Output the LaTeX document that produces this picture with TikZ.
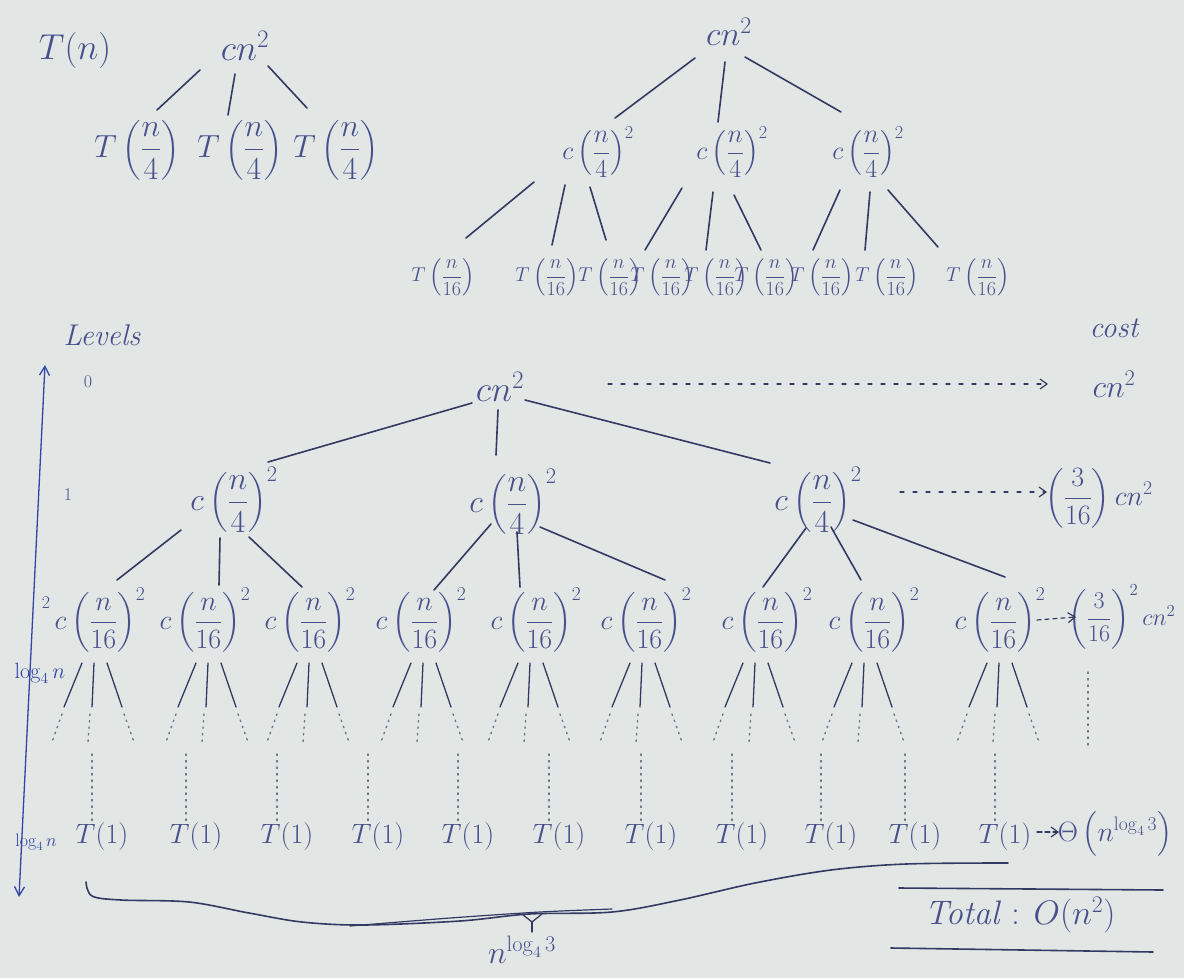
\RequirePackage{fix-cm}
\documentclass[tikz,border=0pt]{standalone}
\usepackage{amsmath}
\usetikzlibrary{calc,arrows.meta}
\definecolor{paper}{RGB}{226,231,229}
\definecolor{txt}{RGB}{72,80,140}
\definecolor{edg}{RGB}{52,57,100}
\definecolor{pen}{RGB}{50,68,165}
\definecolor{dots}{RGB}{110,115,145}
\newcommand{\lnk}[6]{\draw[edge] ($(#1)+(#2,#3)$) -- ($(#4)+(#5,#6)$);}
\newcommand{\fork}[2]{%
 \draw[edge,line width=1.3pt] ($(#1)+(#2-10,43)$) -- ($(#1)+(#2-28,87)$);
 \draw[edge,line width=1.3pt] ($(#1)+(#2+2,43)$) -- ($(#1)+(#2,87)$);
 \draw[edge,line width=1.3pt] ($(#1)+(#2+15,43)$) -- ($(#1)+(#2+30,87)$);
 \draw[dotl] ($(#1)+(#2-30,94)$) -- ($(#1)+(#2-40,122)$);
 \draw[dotl] ($(#1)+(#2-2,94)$) -- ($(#1)+(#2-4,122)$);
 \draw[dotl] ($(#1)+(#2+32,94)$) -- ($(#1)+(#2+42,122)$);}
\newcommand{\leafdots}[1]{\draw[dotl] ($(#1)+(-10,-82)$) -- ($(#1)+(-10,-14)$);}
\begin{document}
\begin{tikzpicture}[x=1pt,y=-1pt,
  edge/.style={draw=edg,line width=1.6pt,line cap=round},
  dotl/.style={draw=dots,line width=1.4pt,dash pattern=on 1.5pt off 5pt,line cap=round},
  darr/.style={draw=edg,line width=1.2pt,dash pattern=on 4pt off 9pt,line cap=round,
    -{Straight Barb[length=7pt,width=10pt]}},
  lbl/.style={text=txt,inner sep=1pt},
  plbl/.style={text=pen,inner sep=1pt},
  fA/.style={font=\fontsize{36}{40}\selectfont},
  fB/.style={font=\fontsize{32}{36}\selectfont},
  fC/.style={font=\fontsize{28}{32}\selectfont},
  fF/.style={font=\fontsize{26}{30}\selectfont},
  fD/.style={font=\fontsize{20}{24}\selectfont},
  fE/.style={font=\fontsize{34}{38}\selectfont},
  fS/.style={font=\fontsize{18}{22}\selectfont}
]
\fill[paper] (0,0) rectangle (1184,978);
\useasboundingbox (0,0) rectangle (1184,978);

% ---------- top-left tree ----------
\node[lbl,fA] (tn) at (75,50) {$T(n)$};
\node[lbl,fA] (a0) at (245,46) {$cn^2$};
\node[lbl,fB] (a1) at (137,150) {$T\left(\dfrac{n}{4}\right)$};
\node[lbl,fB] (a2) at (240,150) {$T\left(\dfrac{n}{4}\right)$};
\node[lbl,fB] (a3) at (336,150) {$T\left(\dfrac{n}{4}\right)$};
\lnk{a0}{-45}{24}{a1}{20}{-40}
\lnk{a0}{-10}{28}{a2}{-12}{-35}
\lnk{a0}{23}{20}{a3}{-29}{-42}

% ---------- top-right tree ----------
\node[lbl,fE] (b0) at (729,32) {$cn^2$};
\node[lbl,fF] (b1) at (598,152) {$c\left(\dfrac{n}{4}\right)^{2}$};
\node[lbl,fF] (b2) at (732,152) {$c\left(\dfrac{n}{4}\right)^{2}$};
\node[lbl,fF] (b3) at (868,152) {$c\left(\dfrac{n}{4}\right)^{2}$};
\lnk{b0}{-34}{26}{b1}{17}{-34}
\lnk{b0}{-4}{30}{b2}{-14}{-30}
\lnk{b0}{16}{25}{b3}{-27}{-40}
\foreach \i/\x in {1/443,2/547,3/610,4/662,5/716,6/766,7/822,8/887,9/978}
  \node[lbl,fD] (c\i) at (\x,277) {$T\left(\dfrac{n}{16}\right)$};
\lnk{b1}{-64}{30}{c1}{23}{-39}
\lnk{b1}{-33}{33}{c2}{5}{-32}
\lnk{b1}{-8}{35}{c3}{-4}{-37}
\lnk{b2}{-50}{36}{c4}{-17}{-27}
\lnk{b2}{-19}{40}{c5}{-10}{-27}
\lnk{b2}{2}{43}{c6}{-5}{-27}
\lnk{b3}{-28}{38}{c7}{-9}{-27}
\lnk{b3}{2}{40}{c8}{-22}{-27}
\lnk{b3}{20}{38}{c9}{-40}{-30}

% ---------- main recursion tree ----------
\node[lbl,font=\itshape\fontsize{30}{34}\selectfont] (levels) at (102,335) {Levels};
\node[lbl,font=\itshape\fontsize{30}{34}\selectfont] (cost) at (1114,328) {cost};
\coordinate (lvtop) at (45,365);
\coordinate (lvbot) at (19,897);
\draw[pen,line width=1.3pt,{Straight Barb[length=9pt,width=10pt]}-{Straight Barb[length=9pt,width=10pt]}] (lvtop) -- (lvbot);
\node[lbl,fS] (lv0) at (88,382) {$0$};
\node[lbl,fS] (lv1) at (68,495) {$1$};
\node[lbl,fS] (lv2) at (46,603) {$2$};
\node[plbl,font=\fontsize{22}{26}\selectfont] (lgn) at (40,673) {$\log_4 n$};
\node[plbl,fS] (lgb) at (36,842) {$\log_4 n$};

\node[lbl,fA] (r) at (500,387) {$cn^2$};
\node[lbl,fB] (p1) at (234,500) {$c\left(\dfrac{n}{4}\right)^{2}$};
\node[lbl,fB] (p2) at (513,502) {$c\left(\dfrac{n}{4}\right)^{2}$};
\node[lbl,fB] (p3) at (818,500) {$c\left(\dfrac{n}{4}\right)^{2}$};
\lnk{r}{-28}{16}{p1}{34}{-38}
\lnk{r}{-2}{23}{p2}{-17}{-47}
\lnk{r}{25}{13}{p3}{-48}{-37}

\foreach \i/\x in {1/100,2/205,3/310,4/421,5/536,6/646,7/767,8/874,9/1000}
  \node[lbl,fC] (q\i) at (\x,620) {$c\left(\dfrac{n}{16}\right)^{2}$};
\lnk{p1}{-53}{30}{q1}{17}{-40}
\lnk{p1}{-14}{38}{q2}{14}{-35}
\lnk{p1}{15}{37}{q3}{-8}{-33}
\lnk{p2}{-22}{22}{q4}{13}{-30}
\lnk{p2}{4}{30}{q5}{-16}{-33}
\lnk{p2}{27}{25}{q6}{19}{-40}
\lnk{p3}{-12}{28}{q7}{-4}{-33}
\lnk{p3}{13}{27}{q8}{-13}{-40}
\lnk{p3}{35}{20}{q9}{5}{-43}

\fork{q1}{-8}
\fork{q2}{1}
\fork{q3}{-3}
\fork{q4}{0}
\fork{q5}{-8}
\fork{q6}{-6}
\fork{q7}{-14}
\fork{q8}{-12}
\fork{q9}{-3}

\foreach \i/\x in {1/102,2/196,3/287,4/378,5/468,6/559,7/651,8/742,9/831,10/915,11/1005}
  \node[lbl,fC] (l\i) at (\x,836) {$T(1)$};
\foreach \i in {1,...,11} {\leafdots{l\i}}

% cost column
\node[lbl,fB] (k0) at (1114,384) {$cn^2$};
\node[lbl,fC] (k1) at (1099,498) {$\left(\dfrac{3}{16}\right)cn^2$};
\node[lbl,font=\fontsize{24}{28}\selectfont] (k2) at (1122,617) {$\left(\dfrac{3}{16}\right)^{2}cn^2$};
\node[lbl,fC] (k3) at (1115,834) {$\Theta\left(n^{\log_4 3}\right)$};
\draw[darr] ($(r)+(108,-3)$) -- ($(k0)+(-66,0)$);
\draw[darr] ($(p3)+(82,-8)$) -- ($(k1)+(-52,-6)$);
\draw[darr,dash pattern=on 4pt off 4pt] ($(q9)+(37,0)$) -- ($(k2)+(-46,0)$);
\draw[darr,dash pattern=on 5pt off 3pt] ($(l11)+(32,-4)$) -- ($(k3)+(-56,-2)$);
\draw[dotl] ($(k2)+(-34,55)$) -- ($(k2)+(-34,133)$);

% brace under leaves
\draw[edge] plot[smooth,tension=0.55] coordinates {(86,882)(92,896)(121,900)(189,902)(249,913)(302,922)(363,925)(460,921)(529,914)(612,912)(680,900)(755,883)(831,870)(906,864)(1008,863)};
\draw[edge,line width=1.2pt] plot[smooth,tension=0.5] coordinates {(350,926)(450,918)(540,912)(612,909)};
\draw[edge,line width=1.3pt] (522,914) -- (532,922) -- (542,914);
\draw[edge,line width=1.3pt] (532,922) -- (532,932);
\node[lbl,font=\fontsize{32}{36}\selectfont] (nl) at (522,950) {$n^{\log_4 3}$};

% total
\node[lbl,font=\fontsize{34}{38}\selectfont] (tot) at (1020,915) {\textit{Total} : $O(n^2)$};
\draw[edge] (899,888) -- (1163,890);
\draw[edge] (891,948) -- (1153,952);
\end{tikzpicture}
\end{document}
